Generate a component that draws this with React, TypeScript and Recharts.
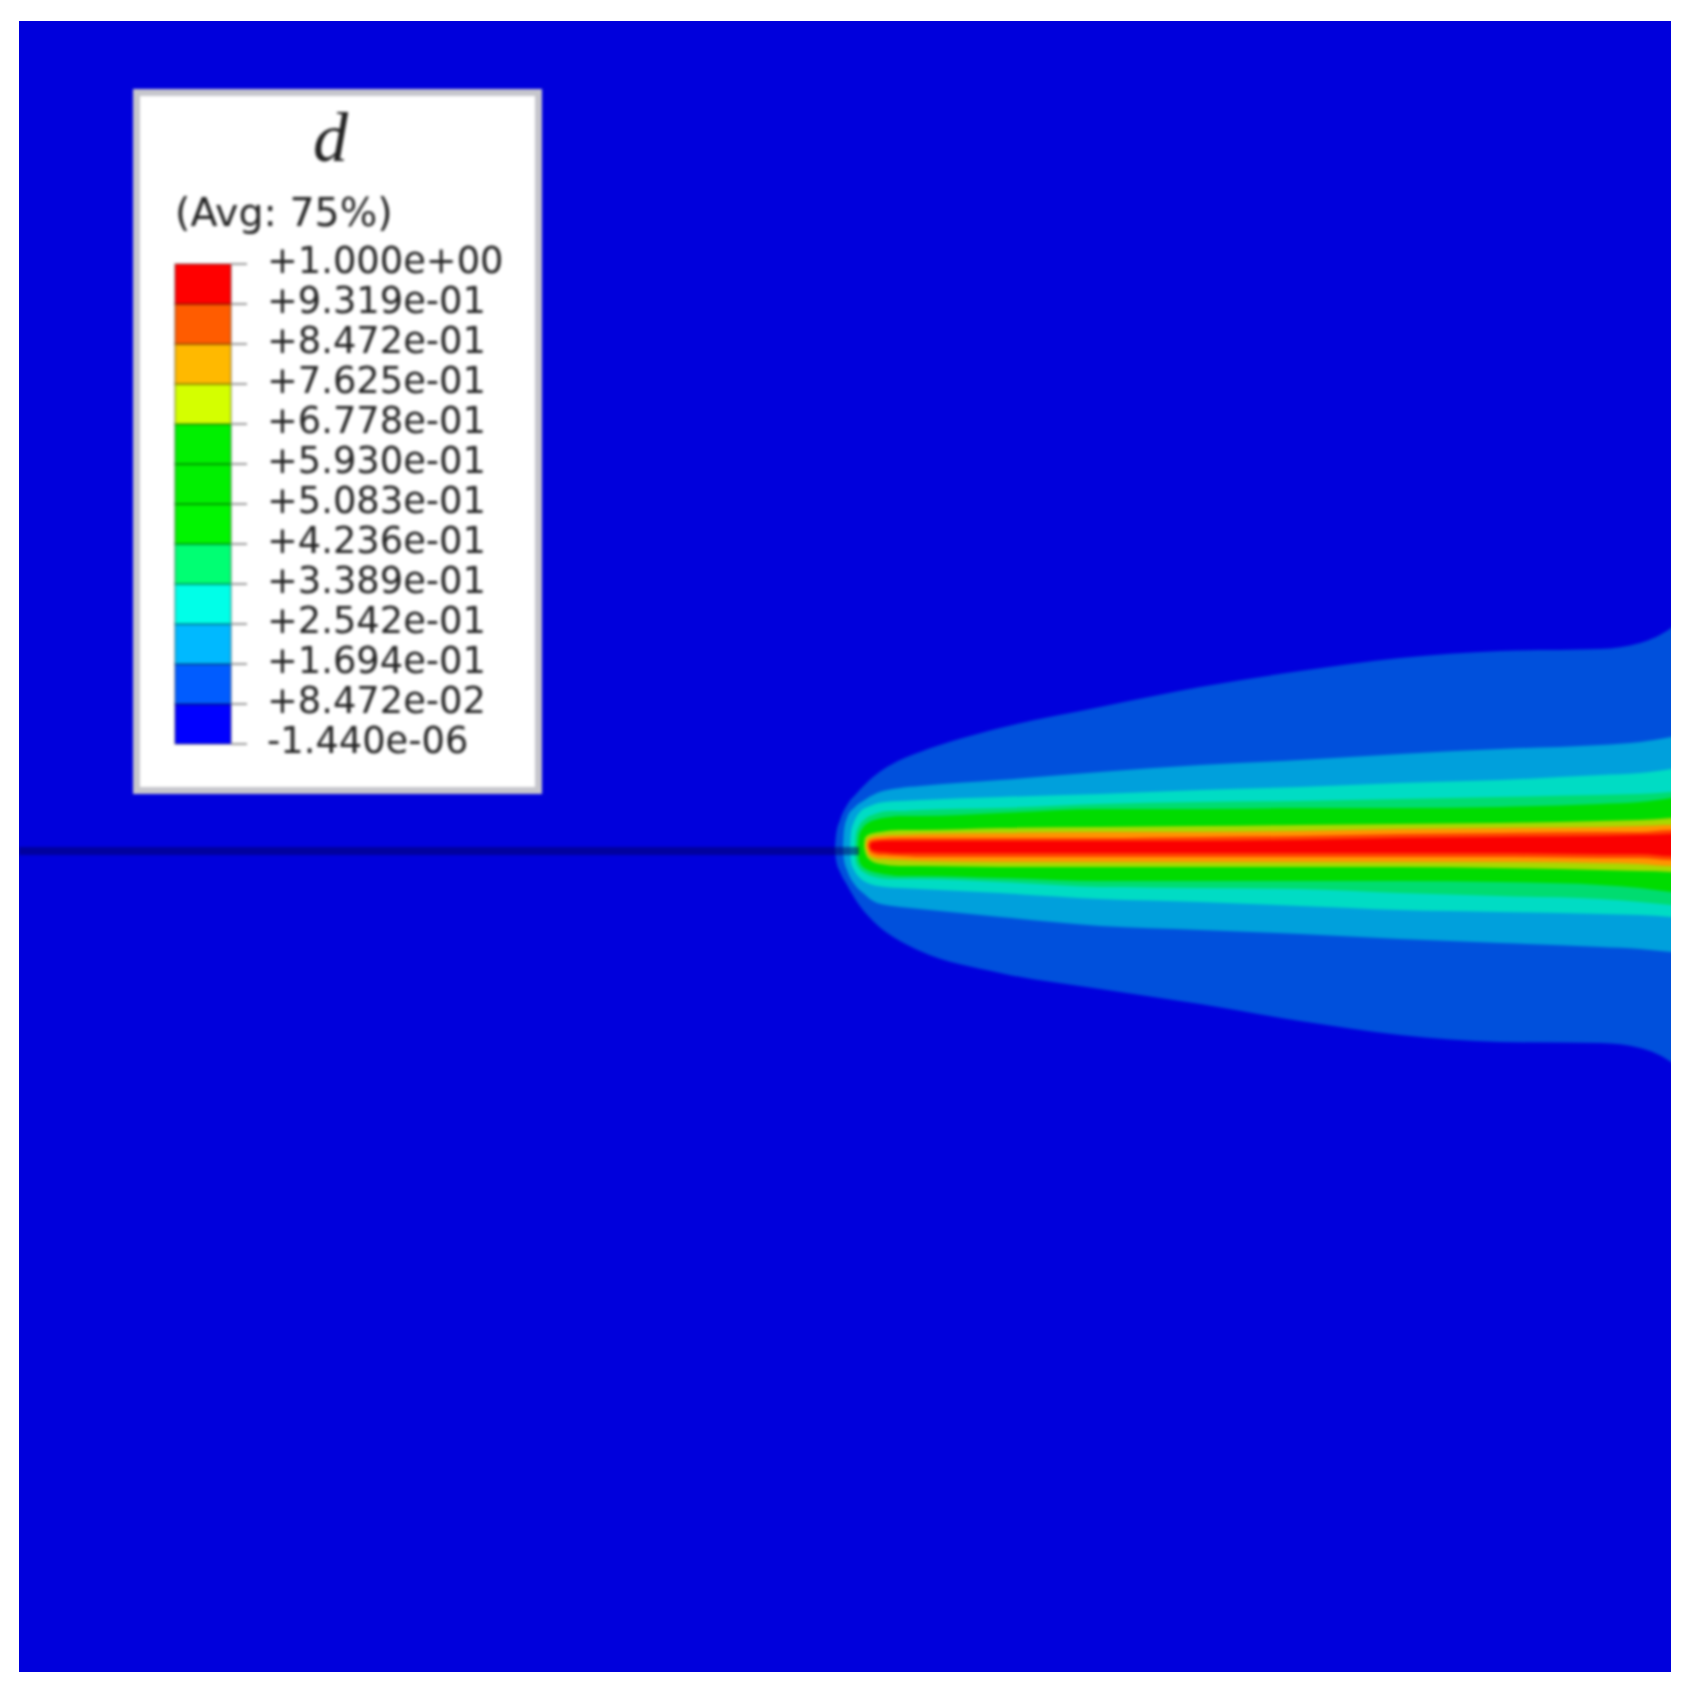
import React from "react";
import { Area, Bar, BarChart, ComposedChart, Line, XAxis, YAxis } from "recharts";

// specimen coordinates: x from the left edge, y measured from the crack plane
const tailX = [901, 981, 1081, 1181, 1281, 1381, 1481, 1581, 1621, 1652, 1662];

const band1X = [816, 817, 821, 828, 838, 854, 881];
const band1Top = [2, 15, 30, 45, 57, 73, 90, 98, 122, 143, 163, 179, 192, 199, 201, 207, 222, 230];
const band1Bot = [2, -10, -22, -35, -52, -71, -91, -101, -123, -139, -154, -171, -185, -192, -193, -198, -212, -220];

const band2X = [824, 825, 828, 836, 844, 858, 881];
const band2Top = [2, 20, 32, 43, 49, 57, 62, 64, 70, 78, 85, 90, 96, 101, 105, 108, 113, 115];
const band2Bot = [2, -10, -20, -35, -43, -53, -57, -59, -67, -76, -80, -84, -89, -93, -97, -99, -102, -103];

const band3X = [831, 832, 835, 841, 851, 866, 881];
const band3Top = [2, 18, 28, 38, 44, 48, 49, 50, 53, 56, 60, 63, 67, 70, 75, 77, 81, 83];
const band3Bot = [2, -12, -20, -28, -34, -37, -38, -39, -43, -49, -52, -56, -60, -62, -64, -65, -67, -68];

const band4X = [836, 837, 840, 846, 856, 871, 881];
const band4Top = [2, 16, 24, 31, 36, 39, 39, 40, 42, 46, 48, 49, 51, 53, 55, 56, 58, 59];
const band4Bot = [2, -12, -18, -23, -27, -29, -29, -29, -32, -37, -38, -39, -43, -46, -49, -52, -55, -56];

const band5X = [839, 840, 843, 849, 859, 871, 881];
const band5Top = [2, 14, 21, 27, 31, 33, 34, 34, 37, 41, 41, 42, 42, 43, 46, 48, 52, 54];
const band5Bot = [2, -10, -16, -20, -23, -25, -26, -26, -28, -31, -31, -31, -31, -32, -35, -38, -42, -43];

const band6X = [845, 846, 851, 861, 881];
const band6Top = [4, 12, 16, 18, 20, 20, 22, 23, 24, 25, 26, 27, 29, 30, 32, 33];
const band6Bot = [4, -2, -10, -14, -16, -16, -17, -17, -17, -17, -17, -18, -20, -21, -22, -23];

const band7X = [847, 848, 851, 861, 881];
const band7Top = [4, 10, 12, 14, 15, 16, 17, 18, 18, 19, 21, 22, 23, 24, 25, 25];
const band7Bot = [4, 0, -6, -9, -10, -11, -12, -12, -12, -12, -12, -12, -13, -14, -16, -16];

const band8X = [849, 850, 853, 861, 881];
const band8Top = [4, 8, 10, 11, 12, 12, 12, 12, 13, 14, 16, 17, 18, 18, 20, 20];
const band8Bot = [4, 1, -3, -5, -6, -7, -7, -7, -7, -7, -7, -7, -8, -8, -10, -10];

const band9X = [851, 852, 856, 866, 881];
const band9Top = [4, 7, 8, 9, 9, 9, 9, 9, 9, 10, 12, 13, 14, 15, 16, 17];
const band9Bot = [4, 1, -1, -2, -3, -3, -3, -3, -3, -3, -3, -3, -4, -4, -6, -6];

const crackX = [0, 840];
const crackY = [-1, -1];

const legendLabels = [
  "-1.440e-06", "+8.472e-02", "+1.694e-01", "+2.542e-01", "+3.389e-01", "+4.236e-01", "+5.083e-01",
  "+5.930e-01", "+6.778e-01", "+7.625e-01", "+8.472e-01", "+9.319e-01", "+1.000e+00",
];
const legendColors = [
  "#0000ff", "#005cff", "#00b9ff", "#00ffe8", "#00ff73", "#00f500", "#00f000",
  "#00f000", "#d4ff00", "#ffb900", "#ff5c00", "#ff0000",
];

const toBand = (tip: number[], top: number[], bot: number[]) =>
  [...tip, ...tailX].map((x, i) => ({ x, band: [bot[i], top[i]] }));

const bands = [
  { id: "b1", color: "#0050dc", data: toBand(band1X, band1Top, band1Bot) },
  { id: "b2", color: "#00a0dc", data: toBand(band2X, band2Top, band2Bot) },
  { id: "b3", color: "#00dcc4", data: toBand(band3X, band3Top, band3Bot) },
  { id: "b4", color: "#00dc70", data: toBand(band4X, band4Top, band4Bot) },
  { id: "b5", color: "#00dc00", data: toBand(band5X, band5Top, band5Bot) },
  { id: "b6", color: "#a8d800", data: toBand(band6X, band6Top, band6Bot) },
  { id: "b7", color: "#ff9400", data: toBand(band7X, band7Top, band7Bot) },
  { id: "b8", color: "#ff4000", data: toBand(band8X, band8Top, band8Bot) },
  { id: "b9", color: "#fa0000", data: toBand(band9X, band9Top, band9Bot) },
];
const crackData = crackX.map((x, i) => ({ x, y: crackY[i] }));

const legendRow: Record<string, number | string> = { name: "d" };
legendColors.forEach((_, i) => {
  legendRow[`s${i}`] = 1;
});
const legendTicks = legendLabels.map((_, i) => i);

function Legend() {
  return (
    <div
      style={{
        position: "absolute",
        left: 133,
        top: 89,
        width: 409,
        height: 705,
        boxSizing: "border-box",
        background: "#fff",
        border: "7px solid #c6c6cc",
        filter: "blur(1.4px)",
      }}
    >
      <div
        style={{
          position: "absolute",
          left: 0,
          right: 14,
          top: 2,
          textAlign: "center",
          fontFamily: "'Liberation Serif', serif",
          fontStyle: "italic",
          fontSize: 70,
          lineHeight: "80px",
          color: "#222",
        }}
      >
        d
      </div>
      <div
        style={{
          position: "absolute",
          left: 35,
          top: 94,
          fontFamily: "'DejaVu Sans', sans-serif",
          fontSize: 39.5,
          lineHeight: "44px",
          color: "#222",
          whiteSpace: "nowrap",
        }}
      >
        (Avg: 75%)
      </div>
      <div style={{ position: "absolute", left: -7, top: -7 }}>
        <BarChart
          width={409}
          height={705}
          data={[legendRow]}
          barCategoryGap={0}
          margin={{ left: 42, right: 0, top: 175, bottom: 50 }}
        >
          <XAxis dataKey="name" hide />
          <YAxis
            orientation="right"
            width={311}
            domain={[0, 12]}
            ticks={legendTicks}
            interval={0}
            axisLine={false}
            tickSize={16}
            tickMargin={20}
            tickLine={{ stroke: "#999", strokeWidth: 2 }}
            tickFormatter={(i: number) => legendLabels[i]}
            tick={{ fill: "#222", fontSize: 36.8, fontFamily: "'DejaVu Sans', sans-serif", dy: -4 }}
          />
          {legendColors.map((color, i) => (
            <Bar
              key={i}
              dataKey={`s${i}`}
              stackId="legend"
              fill={color}
              stroke="#00000040"
              strokeWidth={2}
              isAnimationActive={false}
            />
          ))}
        </BarChart>
      </div>
    </div>
  );
}

export default function App() {
  return (
    <div style={{ position: "absolute", left: 0, top: 0, width: 1706, height: 1684, background: "#fff", overflow: "hidden" }}>
      <div
        style={{
          position: "absolute",
          left: 19,
          top: 21,
          width: 1652,
          height: 1651,
          background: "#0000dc",
          overflow: "hidden",
        }}
      >
        <div style={{ filter: "blur(1.4px)" }}>
          <ComposedChart width={1662} height={1651} margin={{ left: 0, right: 0, top: 0, bottom: 0 }}>
            <XAxis type="number" dataKey="x" hide domain={[0, 1662]} allowDataOverflow />
            <YAxis type="number" hide domain={[-822, 829]} allowDataOverflow />
            {bands.map((b) => (
              <Area
                key={b.id}
                data={b.data}
                dataKey="band"
                type="monotone"
                fill={b.color}
                fillOpacity={1}
                stroke="none"
                dot={false}
                activeDot={false}
                isAnimationActive={false}
              />
            ))}
            <Line
              data={crackData}
              dataKey="y"
              stroke="#000060"
              strokeOpacity={0.5}
              strokeWidth={8}
              dot={false}
              activeDot={false}
              isAnimationActive={false}
            />
          </ComposedChart>
        </div>
      </div>
      <Legend />
    </div>
  );
}
